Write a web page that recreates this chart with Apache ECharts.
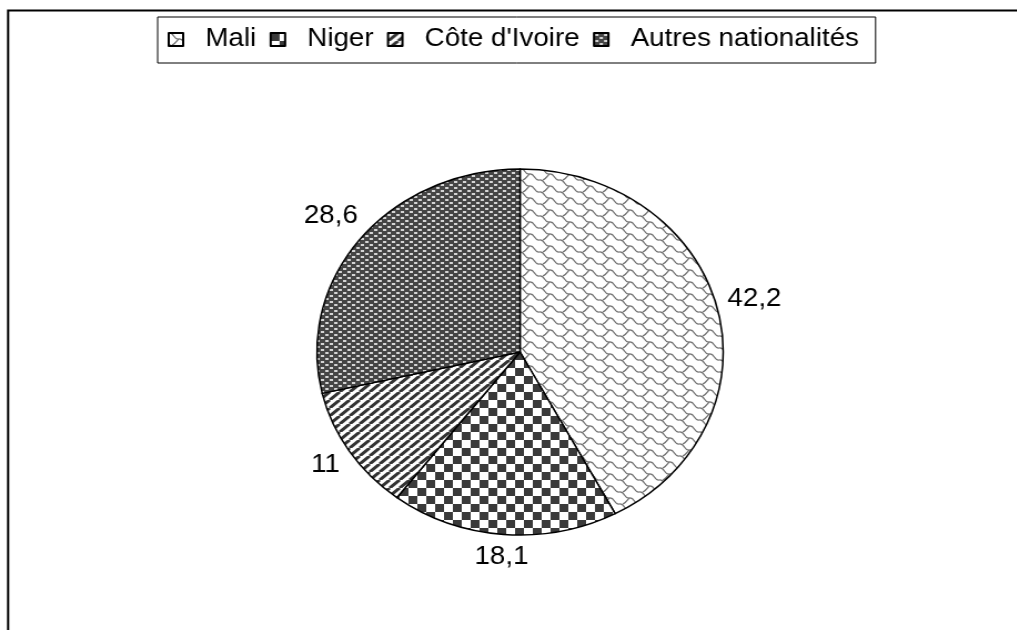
<!DOCTYPE html>
<html>
<head>
<meta charset="utf-8">
<script src="https://cdn.jsdelivr.net/npm/echarts@6/dist/echarts.min.js"></script>
<style>
  html, body { margin: 0; padding: 0; background: #fff; overflow: hidden; }
  /* the original picture is stretched horizontally, so the chart is drawn narrower and scaled */
  #chart { width: 916px; height: 630px; transform: scaleX(1.11); transform-origin: 0 0; }
</style>
</head>
<body>
<div id="chart"></div>
<script>
const categories = ['Mali', 'Niger', "Côte d'Ivoire", 'Autres nationalités']
const shares = [42.2, 18.1, 11, 28.6]

const cx = 468.5
const cy = 352
const radius = 183

function tile(w, h, draw) {
  const c = document.createElement('canvas')
  c.width = w
  c.height = h
  const ctx = c.getContext('2d')
  draw(ctx, w, h)
  return { image: c, repeat: 'repeat' }
}

// Mali: light wavy shingles on white
const maliFill = tile(18, 12, (ctx, w, h) => {
  ctx.fillStyle = '#fff'
  ctx.fillRect(0, 0, w, h)
  ctx.strokeStyle = '#6e6e6e'
  ctx.lineWidth = 1.2
  for (const oy of [-h, 0, h]) {
    ctx.beginPath()
    ctx.moveTo(0, oy)
    ctx.bezierCurveTo(5, oy - 1, 4, oy + 7, 9, oy + 6)
    ctx.bezierCurveTo(14, oy + 5, 13, oy + 13, 18, oy + 12)
    ctx.stroke()
    ctx.beginPath()
    ctx.moveTo(9, oy + 6)
    ctx.bezierCurveTo(7, oy + 8, 6, oy + 11, 3, oy + 12)
    ctx.stroke()
  }
})

// Niger: checkerboard
const nigerFill = tile(16, 16, (ctx) => {
  ctx.fillStyle = '#fff'
  ctx.fillRect(0, 0, 16, 16)
  ctx.fillStyle = '#3a3a3a'
  ctx.fillRect(0, 0, 8, 8)
  ctx.fillRect(8, 8, 8, 8)
})

// Côte d'Ivoire: diagonal stripes
const coteFill = tile(9, 8, (ctx, w, h) => {
  ctx.fillStyle = '#fff'
  ctx.fillRect(0, 0, w, h)
  ctx.strokeStyle = '#333'
  ctx.lineWidth = 3
  for (const k of [-w, 0, w]) {
    ctx.beginPath()
    ctx.moveTo(k, h)
    ctx.lineTo(k + w, 0)
    ctx.stroke()
  }
})

// Autres: dark grey with small light dashes
const autresFill = tile(8, 6, (ctx) => {
  ctx.fillStyle = '#454545'
  ctx.fillRect(0, 0, 8, 6)
  ctx.fillStyle = '#d4d4d4'
  ctx.fillRect(1, 1, 3, 2)
  ctx.fillRect(5, 4, 3, 2)
})

const fills = [maliFill, nigerFill, coteFill, autresFill]
const total = shares.reduce((a, b) => a + b, 0)

const chart = echarts.init(document.getElementById('chart'))

chart.setOption({
  animation: false,
  backgroundColor: '#fff',
  legend: {
    data: categories,
    left: 142,
    top: 17,
    itemWidth: 13,
    itemHeight: 13,
    itemGap: 12,
    icon: 'rect',
    selectedMode: false,
    padding: [10, 15, 11, 9],
    borderColor: '#000',
    borderWidth: 1,
    textStyle: {
      fontSize: 25,
      fontFamily: 'Liberation Sans',
      color: '#000',
      padding: [0, 0, 0, 15],
    },
  },
  graphic: [
    {
      type: 'rect',
      shape: { x: 7.3, y: 10.5, width: 1200, height: 1000 },
      style: { fill: 'none', stroke: '#000', lineWidth: 2 },
      silent: true,
    },
  ],
  series: [
    {
      type: 'pie',
      center: [cx, cy],
      radius: radius,
      startAngle: 90,
      clockwise: true,
      avoidLabelOverlap: false,
      itemStyle: { borderColor: '#000', borderWidth: 1.5 },
      label: {
        show: true,
        position: 'outside',
        fontSize: 25,
        fontFamily: 'Liberation Sans',
        color: '#000',
        formatter: (p) => String(p.value).replace('.', ','),
      },
      labelLine: { show: false },
      labelLayout: function (p) {
        let before = 0
        for (let i = 0; i < p.dataIndex; i++) before += shares[i]
        const a = ((before + shares[p.dataIndex] / 2) / total) * 2 * Math.PI
        const dx = Math.sin(a)
        const dy = -Math.cos(a)
        const w = p.labelRect.width
        const h = p.labelRect.height
        const r = radius + 8 + (Math.abs(dx) * w) / 2 + (Math.abs(dy) * h) / 2
        return { x: cx + dx * r, y: cy + dy * r, align: 'center', verticalAlign: 'middle' }
      },
      emphasis: { disabled: true },
      data: categories.map((name, i) => ({
        name: name,
        value: shares[i],
        itemStyle: { color: fills[i] },
      })),
    },
  ],
})
</script>
</body>
</html>
